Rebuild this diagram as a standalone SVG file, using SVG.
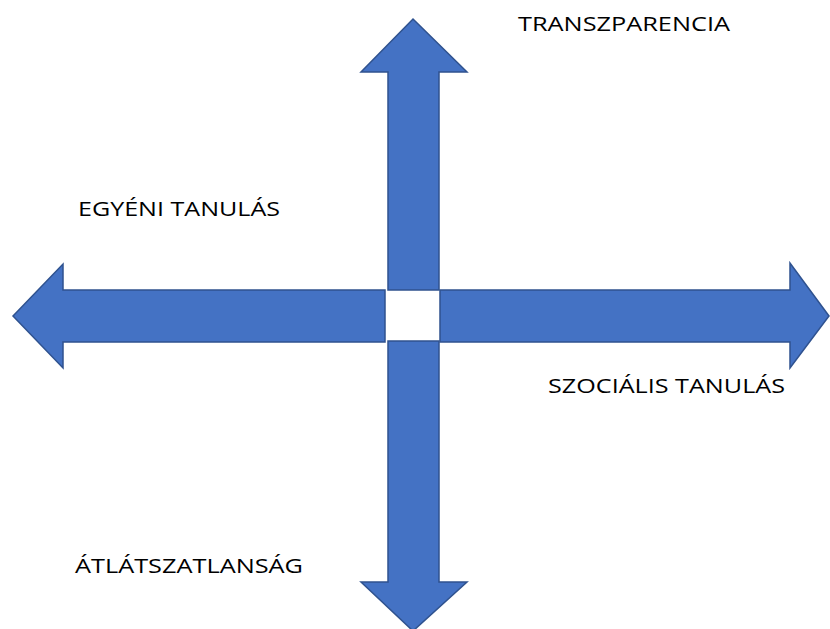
<svg xmlns="http://www.w3.org/2000/svg" width="830" height="629" viewBox="0 0 830 629">
<style>
.arrow{fill:#4472C4;stroke:#2F528F;stroke-width:1.5;stroke-linejoin:miter}
.lbl{font-family:"Open Sans","Liberation Sans",sans-serif;font-size:20px;fill:#000}
</style>
<rect width="830" height="629" fill="#fff"/>
<g id="connectors">
<polygon id="arrow-up" class="arrow" points="413,19 467,72 439,72 439,290 388,290 388,72 361,72"/>
<polygon id="arrow-down" class="arrow" points="413,631 467,582 439,582 439,341 388,341 388,582 361,582"/>
<polygon id="arrow-left" class="arrow" points="13,316 63,264 63,290 385,290 385,342 63,342 63,368"/>
<polygon id="arrow-right" class="arrow" points="829,316 790,263 790,290 440,290 440,342 790,342 790,368"/>
</g>
<g id="transzparencia"><text class="lbl" x="518" y="31" textLength="212" lengthAdjust="spacingAndGlyphs">TRANSZPARENCIA</text></g>
<g id="egyeni"><text class="lbl" x="78" y="216" textLength="202" lengthAdjust="spacingAndGlyphs">EGYÉNI TANULÁS</text></g>
<g id="szocialis"><text class="lbl" x="548" y="393" textLength="237" lengthAdjust="spacingAndGlyphs">SZOCIÁLIS TANULÁS</text></g>
<g id="atlatszatlansag"><text class="lbl" x="75" y="573" textLength="228" lengthAdjust="spacingAndGlyphs">ÁTLÁTSZATLANSÁG</text></g>
</svg>
